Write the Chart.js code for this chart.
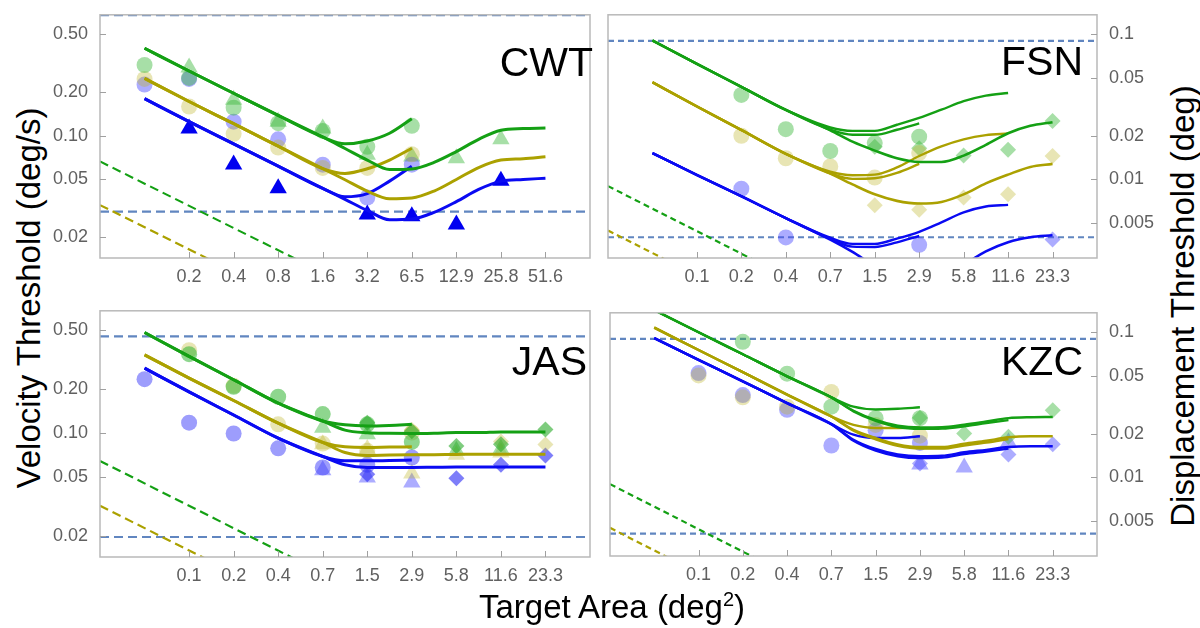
<!DOCTYPE html>
<html>
<head>
<meta charset="utf-8">
<script src="https://cdn.jsdelivr.net/npm/chart.js@4.4.0/dist/chart.umd.min.js"></script>
<style>
  body { margin: 0; background: #fff; width: 1200px; height: 628px; position: relative; overflow: hidden;
         font-family: "Liberation Sans", Arial, sans-serif; }
  canvas { position: absolute; }
  .title { position: absolute; font-size: 33px; color: #000; white-space: nowrap; line-height: 1; }
  .panel { position: absolute; font-size: 41px; color: #000; line-height: 40px; text-align: right; }
  sup { font-size: 20px; vertical-align: 12px; line-height: 0; }
</style>
</head>
<body>
<canvas id="cwt" width="550" height="290" style="left:50px;top:0px"></canvas>
<canvas id="fsn" width="560" height="290" style="left:600px;top:0px"></canvas>
<canvas id="jas" width="550" height="294" style="left:50px;top:296px"></canvas>
<canvas id="kzc" width="560" height="292" style="left:600px;top:298px"></canvas>

<div class="panel" style="right:607px;top:42px">CWT</div>
<div class="panel" style="right:117px;top:41px">FSN</div>
<div class="panel" style="right:613px;top:341px">JAS</div>
<div class="panel" style="right:117px;top:341px">KZC</div>

<div class="title" style="left:28px;top:298px;transform:translate(-50%,-50%) rotate(-90deg)">Velocity Threshold (deg/s)</div>
<div class="title" style="left:1182px;top:306px;transform:translate(-50%,-50%) rotate(-90deg)">Displacement Threshold (deg)</div>
<div class="title" style="left:612px;top:606px;transform:translate(-50%,-50%)">Target Area (deg<sup>2</sup>)</div>

<script>
// tick labels
const xTickPos = [2, 3, 4, 5, 6, 7, 8, 9, 10];
const xLabelsCWT = ['0.2', '0.4', '0.8', '1.6', '3.2', '6.5', '12.9', '25.8', '51.6'];
const xLabelsRest = ['0.1', '0.2', '0.4', '0.7', '1.5', '2.9', '5.8', '11.6', '23.3'];
const yTicksLeft = [0.02, 0.05, 0.1, 0.2, 0.5];
const yLabelsLeft = ['0.02', '0.05', '0.10', '0.20', '0.50'];
const yTicksRight = [0.005, 0.01, 0.02, 0.05, 0.1];
const yLabelsRight = ['0.005', '0.01', '0.02', '0.05', '0.1'];

// x positions (one step = one doubling of area)
const fitX = [1, 2, 3, 4, 5, 5.5, 6, 6.5, 7, 7.5, 8, 8.5, 9, 9.5, 10];
const markX = [1, 2, 3, 4, 5, 6, 7, 8, 9, 10];
const dashX = [0, 5];
const hX = [0, 11];

// CWT (deg/s)
const cwtGreenShort = [0.40, 0.279, 0.196, 0.138, 0.098, 0.088, 0.092, 0.104, 0.131];
const cwtGreenLong = [0.40, 0.279, 0.196, 0.138, 0.098, 0.0817, 0.068, 0.0585, 0.059, 0.0656, 0.0778, 0.0945, 0.109, 0.112, 0.113];
const cwtOliveShort = [0.248, 0.172, 0.121, 0.0848, 0.0594, 0.055, 0.0592, 0.068, 0.082];
const cwtOliveLong = [0.248, 0.172, 0.121, 0.0848, 0.0594, 0.0498, 0.0416, 0.0369, 0.0373, 0.0416, 0.050, 0.0604, 0.068, 0.0695, 0.0716];
const cwtBlueShort = [0.180, 0.125, 0.0879, 0.0618, 0.0434, 0.038, 0.040, 0.0487, 0.0617];
const cwtBlueLong = [0.180, 0.125, 0.0879, 0.0618, 0.0434, 0.0365, 0.0306, 0.0264, 0.0267, 0.0297, 0.0352, 0.0427, 0.0487, 0.050, 0.051];
const cwtGreenCirc = [0.307, 0.25, 0.156, 0.122, 0.108, 0.084, 0.117, null, null, null];
const cwtOliveCirc = [0.246, 0.159, 0.103, 0.0829, 0.060, 0.060, 0.0746, null, null, null];
const cwtBlueCirc = [0.225, 0.246, 0.125, 0.0945, 0.0632, 0.0375, 0.0632, null, null, null];
const cwtGreenTri = [null, 0.295, 0.177, 0.125, 0.112, 0.0739, 0.072, 0.0701, 0.0945, null];
const cwtBlueTri = [null, 0.112, 0.0635, 0.0435, null, 0.0287, 0.0279, 0.0245, 0.049, null];
const cwtGreenDash = [0.0666, 0.01145];
const cwtOliveDash = [0.0333, 0.00578];
const cwtLevels = [0.675, 0.030];

// FSN (deg)
const fsnGreenA = [0.0905, 0.0625, 0.0434, 0.0301, 0.0220, 0.0203, 0.0203, 0.0220, 0.0243];
const fsnGreenB = [0.0905, 0.0625, 0.0434, 0.0301, 0.0228, 0.0216, 0.0216, 0.0238, 0.0265, 0.0302, 0.0346, 0.0378, 0.0394];
const fsnGreenC = [0.0905, 0.0625, 0.0434, 0.0301, 0.0218, 0.0182, 0.0158, 0.0140, 0.0132, 0.0132, 0.0146, 0.0173, 0.0208, 0.0234, 0.0248];
const fsnOliveA = [0.0467, 0.0318, 0.0219, 0.0150, 0.0110, 0.0101, 0.0102, 0.0111, 0.0128];
const fsnOliveB = [0.0467, 0.0318, 0.0219, 0.0150, 0.0113, 0.0107, 0.0108, 0.0121, 0.0145, 0.0169, 0.0189, 0.0202, 0.0207];
const fsnOliveC = [0.0467, 0.0318, 0.0219, 0.0150, 0.0110, 0.00925, 0.0079, 0.00712, 0.00683, 0.0070, 0.0079, 0.0094, 0.0108, 0.0122, 0.0128];
const fsnBlueA = [0.0152, 0.01074, 0.00766, 0.00542, 0.00391, 0.00345, 0.00343, 0.00369, 0.00408];
const fsnBlueB = [0.0152, 0.01074, 0.00766, 0.00542, 0.00397, 0.00360, 0.00360, 0.00392, 0.00436, 0.00507, 0.00593, 0.00651, 0.00668];
const fsnBlueC = [0.0152, 0.01074, 0.00766, 0.00542, 0.00385, 0.00317, 0.00255, 0.0022, 0.0021, 0.0022, 0.0026, 0.0032, 0.0037, 0.0040, 0.00413];
const fsnGreenCirc = [null, null, 0.0382, 0.0222, 0.0157, 0.0178, 0.0197, null, null, null];
const fsnOliveCirc = [null, null, 0.0200, 0.0140, 0.0123, 0.0103, 0.0152, null, null, null];
const fsnBlueCirc = [null, null, 0.00863, 0.00399, null, null, 0.00355, null, null, null];
const fsnGreenDiam = [null, null, null, null, null, 0.0168, 0.0164, 0.0146, 0.0160, 0.0253];
const fsnOliveDiam = [null, null, null, null, null, 0.00665, 0.00618, 0.0075, 0.0079, 0.0145];
const fsnBlueDiam = [null, null, null, null, null, null, null, null, null, 0.00386];
const fsnGreenDash = [0.0090, 0.00151];
const fsnOliveDash = [0.00445, 0.000747];
const fsnLevels = [0.090, 0.0040];

// JAS (deg/s)
const jasGreenShort = [0.484, 0.333, 0.231, 0.160, 0.121, 0.114, 0.112, 0.113, 0.115];
const jasGreenLong = [0.484, 0.333, 0.231, 0.160, 0.121, 0.105, 0.1007, 0.0998, 0.0995, 0.100, 0.101, 0.101, 0.102, 0.102, 0.102];
const jasOliveShort = [0.341, 0.237, 0.167, 0.117, 0.0865, 0.0808, 0.080, 0.0805, 0.0808];
const jasOliveLong = [0.341, 0.237, 0.167, 0.117, 0.0865, 0.0739, 0.0705, 0.0710, 0.0713, 0.0715, 0.0718, 0.072, 0.072, 0.072, 0.072];
const jasBlueShort = [0.277, 0.191, 0.133, 0.0925, 0.0695, 0.0649, 0.0649, 0.0652, 0.0658];
const jasBlueLong = [0.277, 0.191, 0.133, 0.0925, 0.0695, 0.0610, 0.0585, 0.0585, 0.0585, 0.0587, 0.0589, 0.059, 0.059, 0.059, 0.059];
const jasGreenCirc = [null, 0.345, 0.207, 0.177, 0.135, 0.115, 0.0873, null, null, null];
const jasOliveCirc = [null, 0.367, 0.210, 0.115, 0.085, 0.0759, 0.101, null, null, null];
const jasBlueCirc = [0.233, 0.118, 0.0996, 0.079, 0.0585, 0.061, 0.0684, null, null, null];
const jasGreenTri = [null, null, null, null, 0.109, 0.0986, null, 0.076, 0.078, null];
const jasOliveTri = [null, null, null, null, 0.084, 0.078, 0.0532, 0.0713, 0.074, null];
const jasBlueTri = [null, null, null, null, 0.0561, 0.050, 0.0462, null, null, null];
const jasGreenDiam = [null, null, null, null, null, 0.118, 0.103, 0.082, 0.0842, 0.106];
const jasOliveDiam = [null, null, null, null, null, null, 0.105, null, 0.088, 0.0838];
const jasBlueDiam = [null, null, null, null, null, 0.0527, null, 0.0494, 0.061, 0.0705];
const jasGreenDash = [0.0648, 0.0112];
const jasOliveDash = [0.0321, 0.0056];
const jasLevels = [0.455, 0.0197];

// KZC (deg)
const kzcGreenShort = [0.142, 0.100, 0.0705, 0.0497, 0.0356, 0.0307, 0.0294, 0.0297, 0.0304];
const kzcGreenA = [0.142, 0.100, 0.0705, 0.0497, 0.0356, 0.0285, 0.0245, 0.0222, 0.0216, 0.0217, 0.0225, 0.0237, 0.0248];
const kzcGreenB = [0.142, 0.100, 0.0705, 0.0497, 0.0356, 0.0288, 0.0249, 0.0227, 0.0221, 0.0222, 0.0231, 0.0243, 0.0256, 0.0260, 0.0261];
const kzcOliveShort = [0.1076, 0.0754, 0.0531, 0.0372, 0.0263, 0.0230, 0.0219, 0.0219, 0.0221];
const kzcOliveA = [0.1076, 0.0754, 0.0531, 0.0372, 0.0263, 0.0210, 0.0183, 0.0165, 0.0158, 0.0158, 0.0166, 0.0174, 0.0184];
const kzcOliveB = [0.1076, 0.0754, 0.0531, 0.0372, 0.0263, 0.0213, 0.0187, 0.0169, 0.0162, 0.0162, 0.0171, 0.0179, 0.0189, 0.0192, 0.0192];
const kzcBlueShort = [0.0910, 0.0645, 0.0459, 0.0325, 0.0233, 0.0197, 0.0187, 0.0187, 0.0192];
const kzcBlueA = [0.0910, 0.0645, 0.0459, 0.0325, 0.0233, 0.0179, 0.0153, 0.0140, 0.0136, 0.0137, 0.0145, 0.0151, 0.0158];
const kzcBlueB = [0.0910, 0.0645, 0.0459, 0.0325, 0.0233, 0.0182, 0.0157, 0.0144, 0.0140, 0.0141, 0.0149, 0.0155, 0.0162, 0.0164, 0.0164];
const kzcGreenCirc = [null, null, 0.0859, 0.0518, 0.0307, 0.0256, 0.0256, null, null, null];
const kzcOliveCirc = [null, 0.0504, 0.0356, 0.0307, 0.0388, 0.0230, 0.0194, null, null, null];
const kzcBlueCirc = [null, 0.0523, 0.0369, 0.0292, 0.0166, 0.0211, 0.0173, null, null, null];
const kzcGreenDiam = [null, null, null, null, null, null, 0.0258, 0.0201, 0.0191, 0.029];
const kzcBlueTri = [null, null, null, null, null, null, 0.0123, 0.0117, 0.0175, null];
const kzcBlueDiam = [null, null, null, null, null, null, 0.0125, null, 0.0144, 0.0169];
const kzcGreenDash = [0.0090, 0.00151];
const kzcOliveDash = [0.0045, 0.00075];
const kzcLevels = [0.090, 0.0041];

const GREEN = '#14a014';
const OLIVE = '#aba100';
const BLUE = '#0a0af2';
const LEVEL = '#6186c0';
const gLight = 'rgba(60,185,60,0.45)';
const oLight = 'rgba(190,180,40,0.35)';
const bLight = 'rgba(70,70,255,0.45)';
const TICK = '#606060';
const FONT = '"Liberation Sans", Arial, sans-serif';

const pts = (xs, ys) => ys.map((y, i) => (y == null ? null : { x: xs[i], y })).filter(Boolean);

function curve(ys, color, w) {
  return { data: pts(fitX, ys), showLine: true, borderColor: color, borderWidth: w,
    pointRadius: 0, cubicInterpolationMode: 'monotone', order: 1 };
}
function dashed(xs, ys, color, dash) {
  return { data: pts(xs, ys), showLine: true, borderColor: color, borderWidth: 2.2,
    borderDash: dash, pointRadius: 0, tension: 0, order: 3 };
}
function marks(ys, style, color, r) {
  return { data: pts(markX, ys), showLine: false, pointStyle: style, pointRadius: r,
    backgroundColor: color, borderWidth: 0, order: 2 };
}

// frame and inward ticks, Mathematica style
const framePlugin = {
  id: 'frame',
  afterDraw(chart, args, opts) {
    const { ctx, chartArea: a, scales } = chart;
    ctx.save();
    ctx.strokeStyle = '#b9b9b9';
    ctx.lineWidth = 1.5;
    ctx.strokeRect(a.left, a.top, a.right - a.left, a.bottom - a.top);
    ctx.strokeStyle = '#a0a0a0';
    ctx.lineWidth = 1;
    ctx.beginPath();
    xTickPos.forEach(v => {
      const px = Math.round(scales.x.getPixelForValue(v)) + 0.5;
      ctx.moveTo(px, a.bottom); ctx.lineTo(px, a.bottom - 6);
    });
    opts.ticks.forEach(v => {
      const py = Math.round(scales.y.getPixelForValue(v)) + 0.5;
      if (opts.side === 'left') { ctx.moveTo(a.left, py); ctx.lineTo(a.left + 6, py); }
      else { ctx.moveTo(a.right, py); ctx.lineTo(a.right - 6, py); }
    });
    ctx.stroke();
    ctx.restore();
  }
};

function makeChart(id, o) {
  return new Chart(document.getElementById(id), {
    type: 'scatter',
    data: { datasets: o.datasets },
    options: {
      responsive: false,
      animation: false,
      events: [],
      layout: { padding: o.padding },
      plugins: { legend: { display: false }, tooltip: { enabled: false },
        frame: { side: o.side, ticks: o.yTicks } },
      scales: {
        x: {
          type: 'linear', min: 0, max: 11,
          grid: { display: false }, border: { display: false },
          ticks: { autoSkip: false, maxRotation: 0, padding: 0, color: TICK,
            font: { family: FONT, size: 18 }, callback: (v, i) => o.xLabels[i] },
          afterBuildTicks: s => { s.ticks = xTickPos.map(v => ({ value: v })); },
          afterFit: s => { s.height = o.xHeight; }
        },
        y: {
          type: 'logarithmic', position: o.side, min: o.ymin, max: o.ymax,
          grid: { display: false }, border: { display: false },
          ticks: { padding: 4, color: TICK, font: { family: FONT, size: 18 },
            callback: (v, i) => o.yLabels[i] },
          afterBuildTicks: s => { s.ticks = o.yTicks.map(v => ({ value: v })); },
          afterFit: s => { s.width = o.yWidth; }
        }
      }
    },
    plugins: [framePlugin]
  });
}

const VMIN = 0.0144, VMAX = 0.68;
const DMIN = 0.00288, DMAX = 0.136;

makeChart('cwt', {
  side: 'left', xLabels: xLabelsCWT, yTicks: yTicksLeft, yLabels: yLabelsLeft,
  ymin: VMIN, ymax: VMAX, yWidth: 50, xHeight: 32,
  padding: { left: 0, right: 3, top: 12, bottom: 0 },
  datasets: [
    curve(cwtGreenShort, GREEN, 3), curve(cwtGreenLong, GREEN, 3),
    curve(cwtOliveShort, OLIVE, 3), curve(cwtOliveLong, OLIVE, 3),
    curve(cwtBlueShort, BLUE, 3), curve(cwtBlueLong, BLUE, 3),
    marks(cwtBlueTri, 'triangle', '#0000f0', 10),
    marks(cwtGreenCirc, 'circle', gLight, 8), marks(cwtOliveCirc, 'circle', oLight, 8),
    marks(cwtBlueCirc, 'circle', bLight, 8), marks(cwtGreenTri, 'triangle', gLight, 10),
    dashed(dashX, cwtGreenDash, GREEN, [9, 5]), dashed(dashX, cwtOliveDash, OLIVE, [9, 5]),
    dashed(hX, [cwtLevels[0], cwtLevels[0]], LEVEL, [9, 5]),
    dashed(hX, [cwtLevels[1], cwtLevels[1]], LEVEL, [9, 5])
  ]
});

makeChart('fsn', {
  side: 'right', xLabels: xLabelsRest, yTicks: yTicksRight, yLabels: yLabelsRight,
  ymin: DMIN, ymax: DMAX, yWidth: 63, xHeight: 32,
  padding: { left: 4, right: 0, top: 12, bottom: 0 },
  datasets: [
    curve(fsnGreenA, GREEN, 2.4), curve(fsnGreenB, GREEN, 2.4), curve(fsnGreenC, GREEN, 2.6),
    curve(fsnOliveA, OLIVE, 2.4), curve(fsnOliveB, OLIVE, 2.4), curve(fsnOliveC, OLIVE, 2.6),
    curve(fsnBlueA, BLUE, 2.4), curve(fsnBlueB, BLUE, 2.4), curve(fsnBlueC, BLUE, 2.6),
    marks(fsnGreenCirc, 'circle', gLight, 8), marks(fsnOliveCirc, 'circle', oLight, 8),
    marks(fsnBlueCirc, 'circle', bLight, 8),
    marks(fsnGreenDiam, 'rectRot', gLight, 8), marks(fsnOliveDiam, 'rectRot', oLight, 8),
    marks(fsnBlueDiam, 'rectRot', bLight, 8),
    dashed(dashX, fsnGreenDash, GREEN, [6, 4]), dashed(dashX, fsnOliveDash, OLIVE, [6, 4]),
    dashed(hX, [fsnLevels[0], fsnLevels[0]], LEVEL, [6, 4]),
    dashed(hX, [fsnLevels[1], fsnLevels[1]], LEVEL, [6, 4])
  ]
});

makeChart('jas', {
  side: 'left', xLabels: xLabelsRest, yTicks: yTicksLeft, yLabels: yLabelsLeft,
  ymin: VMIN, ymax: VMAX, yWidth: 50, xHeight: 33,
  padding: { left: 0, right: 3, top: 12, bottom: 0 },
  datasets: [
    curve(jasGreenShort, GREEN, 3), curve(jasGreenLong, GREEN, 3),
    curve(jasOliveShort, OLIVE, 3), curve(jasOliveLong, OLIVE, 3),
    curve(jasBlueShort, BLUE, 3), curve(jasBlueLong, BLUE, 3),
    marks(jasGreenDiam, 'rectRot', 'rgba(40,170,40,0.6)', 8),
    marks(jasOliveDiam, 'rectRot', oLight, 8),
    marks(jasBlueDiam, 'rectRot', 'rgba(40,40,245,0.6)', 8),
    marks(jasGreenCirc, 'circle', 'rgba(50,180,50,0.55)', 8), marks(jasOliveCirc, 'circle', oLight, 8),
    marks(jasBlueCirc, 'circle', 'rgba(60,60,250,0.5)', 8),
    marks(jasGreenTri, 'triangle', gLight, 10), marks(jasOliveTri, 'triangle', oLight, 10),
    marks(jasBlueTri, 'triangle', bLight, 10),
    dashed(dashX, jasGreenDash, GREEN, [9, 5]), dashed(dashX, jasOliveDash, OLIVE, [9, 5]),
    dashed(hX, [jasLevels[0], jasLevels[0]], LEVEL, [9, 5]),
    dashed(hX, [jasLevels[1], jasLevels[1]], LEVEL, [9, 5])
  ]
});

makeChart('kzc', {
  side: 'right', xLabels: xLabelsRest, yTicks: yTicksRight, yLabels: yLabelsRight,
  ymin: DMIN, ymax: DMAX, yWidth: 63, xHeight: 34,
  padding: { left: 4, right: 0, top: 12, bottom: 0 },
  datasets: [
    curve(kzcGreenShort, GREEN, 2.4), curve(kzcGreenA, GREEN, 2.4), curve(kzcGreenB, GREEN, 2.4),
    curve(kzcOliveShort, OLIVE, 2.4), curve(kzcOliveA, OLIVE, 2.4), curve(kzcOliveB, OLIVE, 2.4),
    curve(kzcBlueShort, BLUE, 2.4), curve(kzcBlueA, BLUE, 2.4), curve(kzcBlueB, BLUE, 2.4),
    marks(kzcGreenCirc, 'circle', gLight, 8), marks(kzcOliveCirc, 'circle', oLight, 8),
    marks(kzcBlueCirc, 'circle', bLight, 8),
    marks(kzcGreenDiam, 'rectRot', gLight, 8),
    marks(kzcBlueTri, 'triangle', bLight, 10), marks(kzcBlueDiam, 'rectRot', bLight, 8),
    dashed(dashX, kzcGreenDash, GREEN, [6, 4]), dashed(dashX, kzcOliveDash, OLIVE, [6, 4]),
    dashed(hX, [kzcLevels[0], kzcLevels[0]], LEVEL, [6, 4]),
    dashed(hX, [kzcLevels[1], kzcLevels[1]], LEVEL, [6, 4])
  ]
});
</script>
</body>
</html>
